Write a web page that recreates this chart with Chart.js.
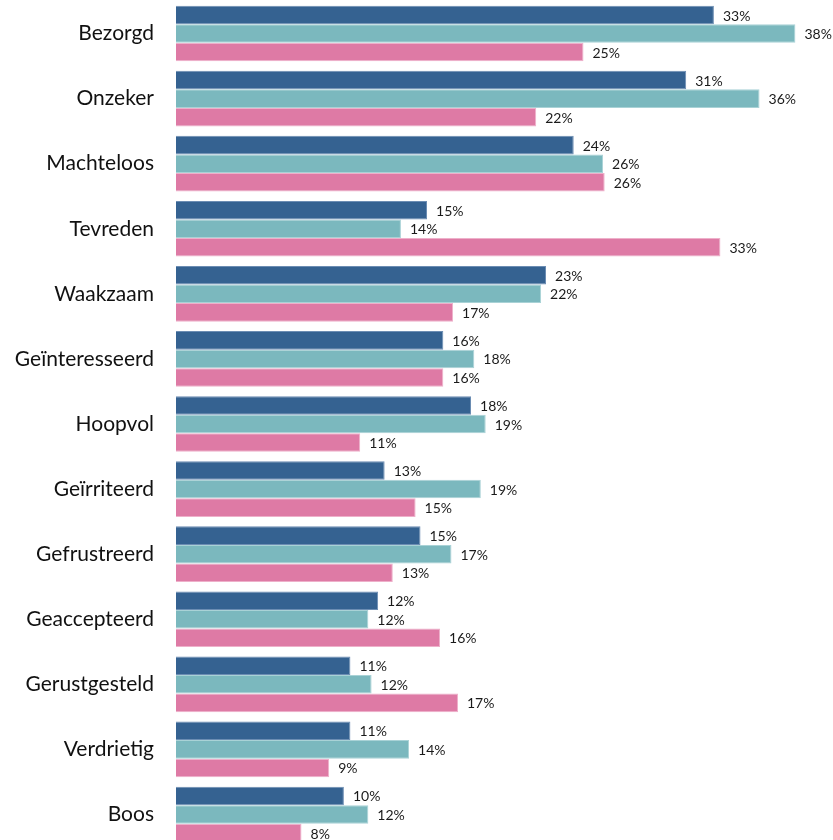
<!DOCTYPE html>
<html>
<head>
<meta charset="utf-8">
<script src="https://cdn.jsdelivr.net/npm/chart.js@4"></script>
<style>
    html, body { margin: 0; padding: 0; background: #fff; overflow: hidden; }
    #wrap { width: 833px; height: 847px; position: relative; }
</style>
</head>
<body>
<div id="wrap"><canvas id="chart"></canvas></div>
<script>
// Categories (top to bottom)
const categories = ['Bezorgd', 'Onzeker', 'Machteloos', 'Tevreden', 'Waakzaam', 'Geïnteresseerd',
    'Hoopvol', 'Geïrriteerd', 'Gefrustreerd', 'Geaccepteerd', 'Gerustgesteld', 'Verdrietig', 'Boos'];

// Series values in %
const seriesBlue = [33.0, 31.3, 24.4, 15.4, 22.7, 16.4, 18.1, 12.8, 15.0, 12.4, 10.7, 10.7, 10.3];
const seriesTeal = [38.0, 35.8, 26.2, 13.8, 22.4, 18.3, 19.0, 18.7, 16.9, 11.8, 12.0, 14.3, 11.8];
const seriesPink = [25.0, 22.1, 26.3, 33.4, 17.0, 16.4, 11.3, 14.7, 13.3, 16.2, 17.3, 9.4, 7.7];

// Bar value labels
const valueLabels = {
    id: 'valueLabels',
    afterDatasetsDraw(chart) {
        const ctx = chart.ctx;
        ctx.save();
        ctx.font = '14px Lato, "Noto Sans", sans-serif';
        ctx.fillStyle = '#1a1a1a';
        ctx.textAlign = 'left';
        ctx.textBaseline = 'middle';
        chart.data.datasets.forEach((ds, i) => {
            chart.getDatasetMeta(i).data.forEach((bar, j) => {
                ctx.fillText(Math.round(ds.data[j]) + '%', bar.x + 9, bar.y + 1);
            });
        });
        ctx.restore();
    }
};

const ctx = document.getElementById('chart').getContext('2d');
new Chart(ctx, {
    type: 'bar',
    data: {
        labels: categories,
        datasets: [
            { data: seriesBlue, backgroundColor: '#356291', borderColor: '#6c8db3' },
            { data: seriesTeal, backgroundColor: '#7bb8be', borderColor: '#a9d2d6' },
            { data: seriesPink, backgroundColor: '#de7aa5', borderColor: '#eeb0ca' }
        ]
    },
    options: {
        indexAxis: 'y',
        responsive: true,
        maintainAspectRatio: false,
        animation: false,
        layout: { padding: { top: 1, right: 5, bottom: 0, left: 0 } },
        datasets: {
            bar: {
                categoryPercentage: 0.855,
                barPercentage: 1,
                borderWidth: 1,
                borderSkipped: 'start'
            }
        },
        plugins: {
            legend: { display: false },
            tooltip: { enabled: false }
        },
        scales: {
            x: {
                display: false,
                min: 0,
                max: 40
            },
            y: {
                afterFit(scale) {
                    scale.width = 176;
                    scale.paddingTop = 0;
                    scale.paddingBottom = 0;
                },
                grid: { display: false, drawTicks: false },
                border: { display: false },
                ticks: {
                    padding: 22,
                    color: '#111',
                    font: { family: 'Lato, "Noto Sans", sans-serif', size: 21 }
                }
            }
        }
    },
    plugins: [valueLabels]
});
</script>
</body>
</html>
